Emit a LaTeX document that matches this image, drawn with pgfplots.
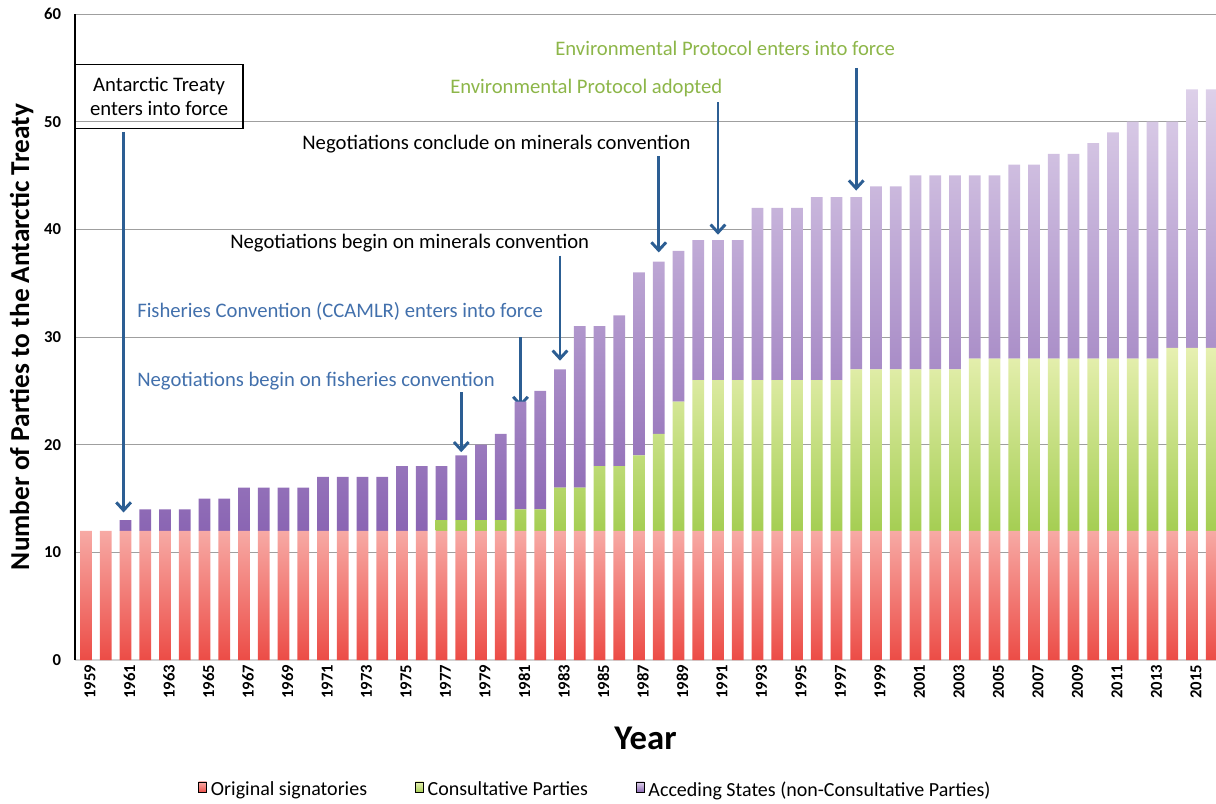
\documentclass[border=0pt]{standalone}
\usepackage{pgfplots}
\pgfplotsset{compat=1.18}
\usepackage{pgfplotstable}
\usetikzlibrary{arrows.meta}
\usepackage{fontspec}
\setmainfont{Carlito}

\definecolor{redtop}{HTML}{F7AAA5}
\definecolor{redbot}{HTML}{EC4C46}
\definecolor{grntop}{HTML}{E7F0B1}
\definecolor{grnbot}{HTML}{A5CE53}
\definecolor{purtop}{HTML}{DDD0E9}
\definecolor{purbot}{HTML}{8A65B3}
\definecolor{arrowblue}{HTML}{2C5E93}
\definecolor{noteblue}{HTML}{4270AC}
\definecolor{notegreen}{HTML}{8DB649}

% parties per year: original signatories, further consultative parties, acceding states
\pgfplotstableread{
year orig cons acc
1959 12 0 0
1960 12 0 0
1961 12 0 1
1962 12 0 2
1963 12 0 2
1964 12 0 2
1965 12 0 3
1966 12 0 3
1967 12 0 4
1968 12 0 4
1969 12 0 4
1970 12 0 4
1971 12 0 5
1972 12 0 5
1973 12 0 5
1974 12 0 5
1975 12 0 6
1976 12 0 6
1977 12 1 5
1978 12 1 6
1979 12 1 7
1980 12 1 8
1981 12 2 10
1982 12 2 11
1983 12 4 11
1984 12 4 15
1985 12 6 13
1986 12 6 14
1987 12 7 17
1988 12 9 16
1989 12 12 14
1990 12 14 13
1991 12 14 13
1992 12 14 13
1993 12 14 16
1994 12 14 16
1995 12 14 16
1996 12 14 17
1997 12 14 17
1998 12 15 16
1999 12 15 17
2000 12 15 17
2001 12 15 18
2002 12 15 18
2003 12 15 18
2004 12 16 17
2005 12 16 17
2006 12 16 18
2007 12 16 18
2008 12 16 19
2009 12 16 19
2010 12 16 20
2011 12 16 21
2012 12 16 22
2013 12 16 22
2014 12 17 21
2015 12 17 24
2016 12 17 24
}\parties

\begin{document}
\begin{tikzpicture}[
  note/.style={font=\fontsize{15.5}{18}\selectfont, anchor=west, inner sep=0pt},
  pointer/.style={arrowblue, line width=2.2pt, -{Straight Barb[length=6pt,width=11pt]}},
  sq/.style={legend image code/.code={\fill[##1] (0pt,-3.8pt) rectangle (7.5pt,3.8pt);}}
]
\begin{axis}[
  at={(0,0)}, anchor=south west,
  scale only axis,
  width=855.75pt, height=484.5pt,
  ybar stacked,
  bar width=0.6,
  xmin=1958.44, xmax=2016.22,
  ymin=0, ymax=60,
  ytick={0,10,...,60},
  xtick={1959,1961,...,2015},
  major tick length=0pt,
  axis x line*=bottom,
  axis y line*=left,
  x axis line style={-, draw=gray!35, line width=0.8pt},
  y axis line style={-, draw=black, line width=0.9pt},
  ymajorgrids,
  grid style={draw=gray!75, line width=0.7pt},
  /pgf/number format/assume math mode=true,
  /pgf/number format/set thousands separator={},
  x tick label style={rotate=90, anchor=east, yshift=-3pt, font=\bfseries\fontsize{12.5}{12.5}\selectfont},
  y tick label style={xshift=-7pt, font=\bfseries\fontsize{12.5}{12.5}\selectfont},
  xlabel={Year},
  ylabel={Number of Parties to the Antarctic Treaty},
  every axis x label/.style={at={(axis description cs:0.5,0)}, yshift=-58.5pt, anchor=center,
    font=\bfseries\fontsize{26}{30}\selectfont},
  every axis y label/.style={at={(axis description cs:0,0.5)}, xshift=-40pt, rotate=90, anchor=center,
    font=\bfseries\fontsize{20.5}{24}\selectfont},
  legend style={at={(0.457,-0.2012)}, anchor=center, draw=none, legend columns=3,
    font=\fontsize{15}{18}\selectfont,
    nodes={inner xsep=3pt}},
  legend cell align=left,
  /tikz/every even column/.append style={column sep=33pt},
]
\addplot[draw=none, top color=redtop, bottom color=redbot, sq] table[x=year, y=orig] {\parties};
\addlegendentry{Original signatories}
\addplot[draw=none, top color=grntop, bottom color=grnbot, sq] table[x=year, y=cons] {\parties};
\addlegendentry{Consultative Parties}
\addplot[draw=none, top color=purtop, bottom color=purbot, sq] table[x=year, y=acc] {\parties};
\addlegendentry{Acceding States (non-Consultative Parties)}

% events
\node[draw=black, line width=1pt, align=center, font=\fontsize{15.5}{18}\selectfont,
  minimum width=126pt, minimum height=48pt, inner sep=2pt] at (axis cs:1962.70,52.31)
  {Antarctic Treaty\\enters into force};
\draw[pointer] (axis cs:1960.9,49.05) -- (axis cs:1960.9,13.7);

\node[note, text=noteblue] at (axis cs:1961.58,25.94) {Negotiations begin on fisheries convention};
\draw[pointer] (axis cs:1978,24.85) -- (axis cs:1978,19.3);

\node[note, text=noteblue] at (axis cs:1961.58,32.35) {Fisheries Convention (CCAMLR) enters into force};
\draw[pointer] (axis cs:1981,30.0) -- (axis cs:1981,23.5);

\node[note] at (axis cs:1966.29,38.76) {Negotiations begin on minerals convention};
\draw[pointer] (axis cs:1983,37.55) -- (axis cs:1983,27.8);

\node[note] at (axis cs:1969.94,47.95) {Negotiations conclude on minerals convention};
\draw[pointer] (axis cs:1988,46.8) -- (axis cs:1988,37.85);

\node[note, text=notegreen] at (axis cs:1977.43,53.15) {Environmental Protocol adopted};
\draw[pointer] (axis cs:1991,51.8) -- (axis cs:1991,39.5);

\node[note, text=notegreen] at (axis cs:1982.75,56.8) {Environmental Protocol enters into force};
\draw[pointer] (axis cs:1998,55.0) -- (axis cs:1998,43.6);
\end{axis}
\pgfresetboundingbox
\useasboundingbox (-56.25pt,-107.25pt) rectangle (855.75pt,495pt);
\end{tikzpicture}
\end{document}
